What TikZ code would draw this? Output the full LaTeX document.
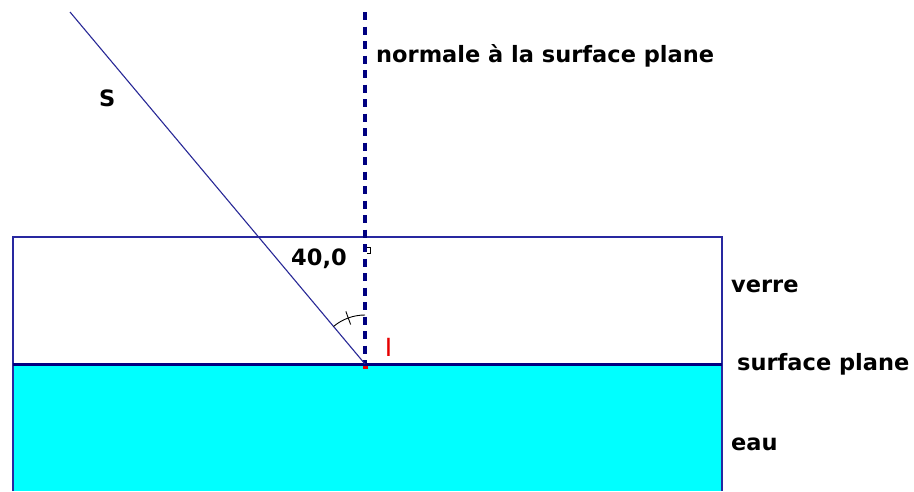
\documentclass[tikz,border=0pt]{standalone}
\usepackage{fontspec}
\usetikzlibrary{calc}
\newfontfamily\labfont{DejaVu Sans}
\definecolor{navyline}{RGB}{0,0,128}
\definecolor{boxblue}{RGB}{40,40,160}
\definecolor{rayblue}{RGB}{40,40,150}
\definecolor{water}{RGB}{0,255,255}
\definecolor{redI}{RGB}{230,0,0}
\tikzset{
  lab/.style={inner sep=0pt, font=\labfont\bfseries\fontsize{22.5}{27}\selectfont, text=black},
  boxline/.style={draw=boxblue, line width=1.6pt},
  normalline/.style={draw=navyline, line width=4.5pt, dash pattern=on 8pt off 6.5pt},
  rayline/.style={draw=rayblue, line width=1.1pt},
  surfline/.style={draw=navyline, line width=3pt},
  thinmark/.style={draw=black, line width=0.9pt}
}
\begin{document}
\begin{tikzpicture}[x=1pt,y=-1pt]
\useasboundingbox (0,0) rectangle (914,491);
% coordinates
\coordinate (I) at (365,364);
\coordinate (S0) at (70,12);
\coordinate (N0) at (365,12);
\coordinate (TL) at (13,237);
\coordinate (TR) at (722,237);
\coordinate (BL) at (13,491);
\coordinate (BR) at (722,491);
\coordinate (WL) at (13,364);
\coordinate (WR) at (722,364);
% water
\fill[water] (WL) rectangle (BR);
% glass box
\draw[boxline] (BL) -- (TL) -- (TR) -- (BR);
% surface line
\draw[surfline] (WL) -- (WR);
% normal
\draw[normalline] (N0) -- (I);
% ray
\draw[rayline] (S0) -- (I);
% angle arc and tick
\draw[thinmark] (365,315) arc[start angle=-90, end angle=-130, radius=49];
\draw[thinmark] ($(I)+(-110:42)$) -- ($(I)+(-110:56)$);
% right angle mark
\draw[thinmark] (367,247) -- (370.5,247) -- (370.5,253.5) -- (367,253.5);
% red point mark
\fill[redI] (363,365.5) rectangle (368,369);
% labels
\node[lab, anchor=base west] (lS) at (99,106) {S};
\node[lab, anchor=base west] (lN) at (376,62) {normale à la surface plane};
\node[lab, anchor=base west] (lA) at (291,265) {40,0};
\node[inner sep=0pt, anchor=base, text=redI, font=\labfont\fontsize{25}{30}\selectfont] (lI) at (388.5,356) {I};
\node[lab, anchor=base west] (lV) at (731,292) {verre};
\node[lab, anchor=base west] (lP) at (737,370) {surface plane};
\node[lab, anchor=base west] (lE) at (731,450) {eau};
\end{tikzpicture}
\end{document}
